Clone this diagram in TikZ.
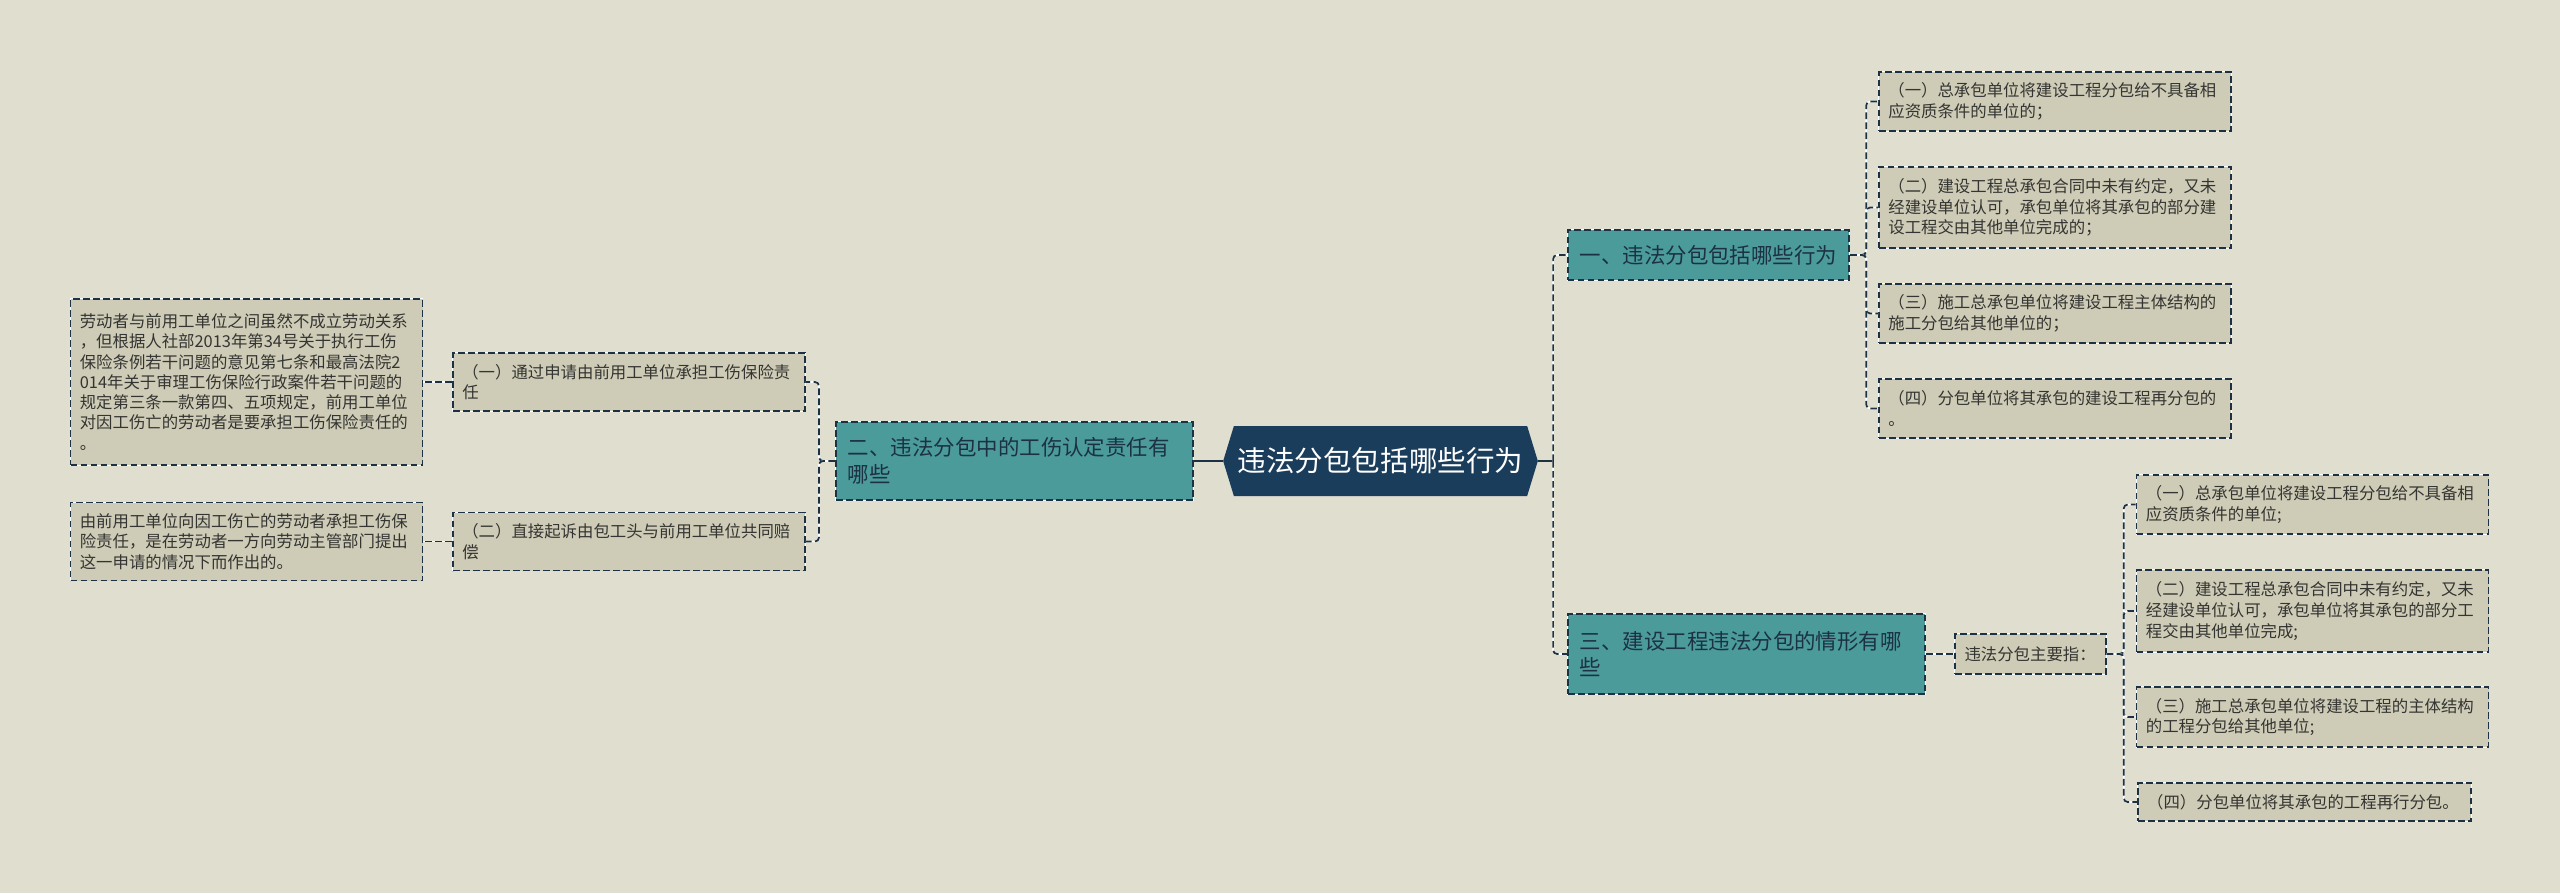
\documentclass[tikz,border=0pt]{standalone}
\usepackage{fontspec}
\setmainfont{Noto Sans CJK SC}
\usetikzlibrary{shapes.symbols}
\definecolor{paper}{RGB}{224,222,207}
\definecolor{leafbg}{RGB}{206,204,182}
\definecolor{branchbg}{RGB}{76,155,155}
\definecolor{rootbg}{RGB}{27,61,92}
\definecolor{ink}{RGB}{28,50,68}
\definecolor{leaftext}{RGB}{52,52,50}
\tikzset{
  box/.style={draw=ink,line width=1.3pt,dash pattern=on 5pt off 2.5pt,
    preaction={draw=white,solid,line width=1.3pt}},
  leaf/.style={box,fill=leafbg,text=leaftext,font=\fontsize{12.3}{15.5}\selectfont,
    align=left,text width=250pt,inner xsep=7pt,inner ysep=0pt},
  branch/.style={box,fill=branchbg,text=ink,font=\fontsize{16.1}{20}\selectfont,
    align=left,inner xsep=9pt,inner ysep=0pt},
  rootnode/.style={signal,signal to=east and west,signal pointer angle=146,
    fill=rootbg,text=white,font=\fontsize{21.4}{26}\selectfont,
    minimum width=236pt,minimum height=52.5pt,inner sep=0pt},
  link/.style={draw=ink,line width=1.3pt,dash pattern=on 5pt off 2.5pt,rounded corners=3pt,
    preaction={draw=white,solid,line width=1.3pt}},
  rootlink/.style={draw=ink,line width=1.5pt}
}
\begin{document}
\begin{tikzpicture}[x=0.75pt,y=-0.75pt]
\fill[paper] (0,0) rectangle (2560,893);
\useasboundingbox (0,0) rectangle (2560,893);
% centre
\node[rootnode] (root) at (1380.5,461) {违法分包包括哪些行为};
% main branches
\node[branch,minimum height=37.5pt] (b1) at (1708.5,255) {一、违法分包包括哪些行为};
\node[branch,text width=250pt,minimum height=58pt] (b2) at (1014.5,461) {二、违法分包中的工伤认定责任有\\哪些};
\node[branch,text width=250pt,minimum height=60pt] (b3) at (1746.5,654) {三、建设工程违法分包的情形有哪\\些};
\draw[rootlink] (root.west) -- (b2.east);
\draw[rootlink] (root.east) -- ++(15,0) coordinate (rb);
\draw[link] (rb) |- (b1.west);
\draw[link] (rb) |- (b3.west);
% branch 1
\foreach \n/\y/\h/\t in {
a/101.5/44/{（一）总承包单位将建设工程分包给不具备相\\应资质条件的单位的；},
b/207.5/61/{（二）建设工程总承包合同中未有约定，又未\\经建设单位认可，承包单位将其承包的部分建\\设工程交由其他单位完成的；},
c/313.5/44/{（三）施工总承包单位将建设工程主体结构的\\施工分包给其他单位的；},
d/408.5/44/{（四）分包单位将其承包的建设工程再分包的\\。}}{
\node[leaf,minimum height=\h pt] (l1\n) at (2055,\y) {\t};
\draw[link] (b1.east) -- ++(16,0) |- (l1\n.west);}
% branch 3
\node[leaf,text width=99pt,minimum height=30pt] (mid) at (2030.5,654) {违法分包主要指：};
\draw[link] (b3.east) -- (mid.west);
\foreach \n/\y/\h/\w/\x/\t in {
a/504.5/44/250/2312.5/{（一）总承包单位将建设工程分包给不具备相\\应资质条件的单位;},
b/611/61/250/2312.5/{（二）建设工程总承包合同中未有约定，又未\\经建设单位认可，承包单位将其承包的部分工\\程交由其他单位完成;},
c/717/45/250/2312.5/{（三）施工总承包单位将建设工程的主体结构\\的工程分包给其他单位;},
d/802/28.5/236/2304.5/{（四）分包单位将其承包的工程再行分包。}}{
\node[leaf,text width=\w pt,minimum height=\h pt] (l3\n) at (\x,\y) {\t};
\draw[link] (mid.east) -- ++(17,0) |- (l3\n.west);}
% branch 2
\node[leaf,minimum height=43.5pt] (l2a) at (629,382) {（一）通过申请由前用工单位承担工伤保险责\\任};
\node[leaf,minimum height=43.5pt] (l2b) at (629,541.5) {（二）直接起诉由包工头与前用工单位共同赔\\偿};
\draw[link] (b2.west) -- ++(-16,0) |- (l2a.east);
\draw[link] (b2.west) -- ++(-16,0) |- (l2b.east);
\node[leaf,font=\fontsize{12.3}{15.2}\selectfont,minimum height=124pt] (l2aa) at (246.5,382) {劳动者与前用工单位之间虽然不成立劳动关系\\，但根据人社部2013年第34号关于执行工伤\\保险条例若干问题的意见第七条和最高法院2\\014年关于审理工伤保险行政案件若干问题的\\规定第三条一款第四、五项规定，前用工单位\\对因工伤亡的劳动者是要承担工伤保险责任的\\。};
\node[leaf,font=\fontsize{12.3}{15.2}\selectfont,minimum height=58.5pt] (l2ba) at (246.5,541.5) {由前用工单位向因工伤亡的劳动者承担工伤保\\险责任，是在劳动者一方向劳动主管部门提出\\这一申请的情况下而作出的。};
\draw[link] (l2a.west) -- (l2aa.east);
\draw[link] (l2b.west) -- (l2ba.east);
\end{tikzpicture}
\end{document}
